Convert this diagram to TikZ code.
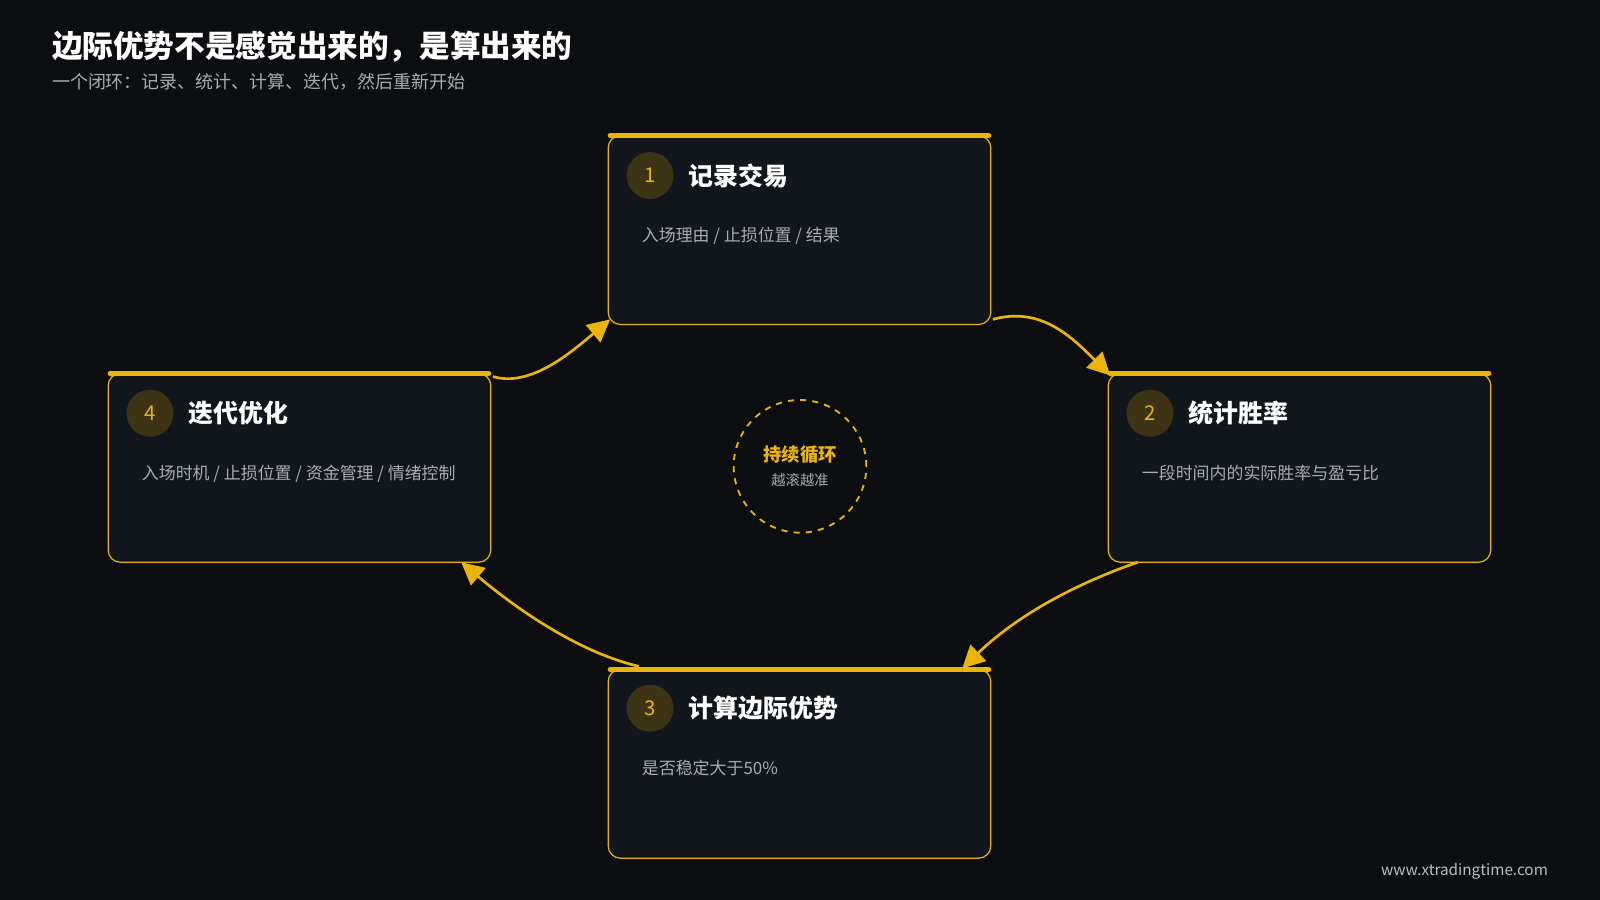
\documentclass[tikz,border=0pt]{standalone}
\usepackage{fontspec}
\setmainfont{Noto Sans CJK SC}
\usetikzlibrary{arrows.meta}
\definecolor{bg}{HTML}{0D0E12}
\definecolor{boxf}{HTML}{12161D}
\definecolor{yel}{HTML}{EBB40C}
\definecolor{numf}{HTML}{3D3416}
\definecolor{txtg}{HTML}{A8ABB2}
\begin{document}
\begin{tikzpicture}[x=0.5pt,y=-0.5pt,
  card/.style={draw=yel,line width=0.6pt,fill=boxf,rounded corners=6pt},
  bar/.style={yel,line width=2.5pt,line cap=round},
  num/.style={circle,fill=numf,minimum size=23pt,inner sep=0pt,text=yel,font=\fontsize{10}{12}\selectfont},
  ttl/.style={anchor=west,text=white,font=\fontsize{12.2}{14}\selectfont\bfseries},
  dsc/.style={anchor=west,text=txtg,font=\fontsize{8.3}{10}\selectfont},
  flow/.style={yel,line width=1.3pt,-{Triangle[length=11pt,width=11pt]}}]
\fill[bg] (0,0) rectangle (1568,882);
\useasboundingbox (0,0) rectangle (1568,882);
\node[anchor=west,text=white,font=\fontsize{15}{17}\selectfont\bfseries] (t) at (44,46) {边际优势不是感觉出来的，是算出来的};
\node[anchor=west,text=txtg,font=\fontsize{8.8}{10}\selectfont] (st) at (44,80) {一个闭环：记录、统计、计算、迭代，然后重新开始};
\node[anchor=east,text=txtg!80,font=\fontsize{7.5}{9}\selectfont] (ft) at (1524,854) {www.xtradingtime.com};
\foreach \n/\x/\y in {1/596/133,2/1086/366,3/596/656,4/106/366}{
  \draw[card] (\x,\y) rectangle ++(375,185);
  \draw[bar] (\x+2,\y) -- ++(371,0);
}
\node[num] (n1) at (637,172) {1}; \node[ttl] (t1) at (668,172) {记录交易};
\node[dsc] (d1) at (622,231) {入场理由 / 止损位置 / 结果};
\node[num] (n2) at (1127,405) {2}; \node[ttl] (t2) at (1158,405) {统计胜率};
\node[dsc] (d2) at (1112,464) {一段时间内的实际胜率与盈亏比};
\node[num] (n3) at (637,694) {3}; \node[ttl] (t3) at (668,694) {计算边际优势};
\node[dsc] (d3) at (622,753) {是否稳定大于50\%};
\node[num] (n4) at (147,405) {4}; \node[ttl] (t4) at (178,405) {迭代优化};
\node[dsc] (d4) at (132,464) {入场时机 / 止损位置 / 资金管理 / 情绪控制};
\node[circle,draw=yel,dashed,line width=0.9pt,minimum size=65pt,inner sep=0pt,align=center] (c) at (784,457)
  {\textcolor{yel}{\fontsize{9}{11}\selectfont\bfseries 持续循环}\\[0pt]\textcolor{txtg}{\fontsize{7}{9}\selectfont 越滚越准}};
\coordinate (a1s) at (973,313); \coordinate (a1e) at (1088,368);
\coordinate (a2s) at (1115,551); \coordinate (a2e) at (943,655);
\coordinate (a3s) at (626,653); \coordinate (a3e) at (452,551);
\coordinate (a4s) at (483,369); \coordinate (a4e) at (598,313);
\draw[flow] (a1s) .. controls (1020,300) and (1050,330) .. (a1e);
\draw[flow] (a2s) .. controls (1060,570) and (1000,600) .. (a2e);
\draw[flow] (a3s) .. controls (570,640) and (510,600) .. (a3e);
\draw[flow] (a4s) .. controls (520,380) and (560,345) .. (a4e);
\end{tikzpicture}
\end{document}
